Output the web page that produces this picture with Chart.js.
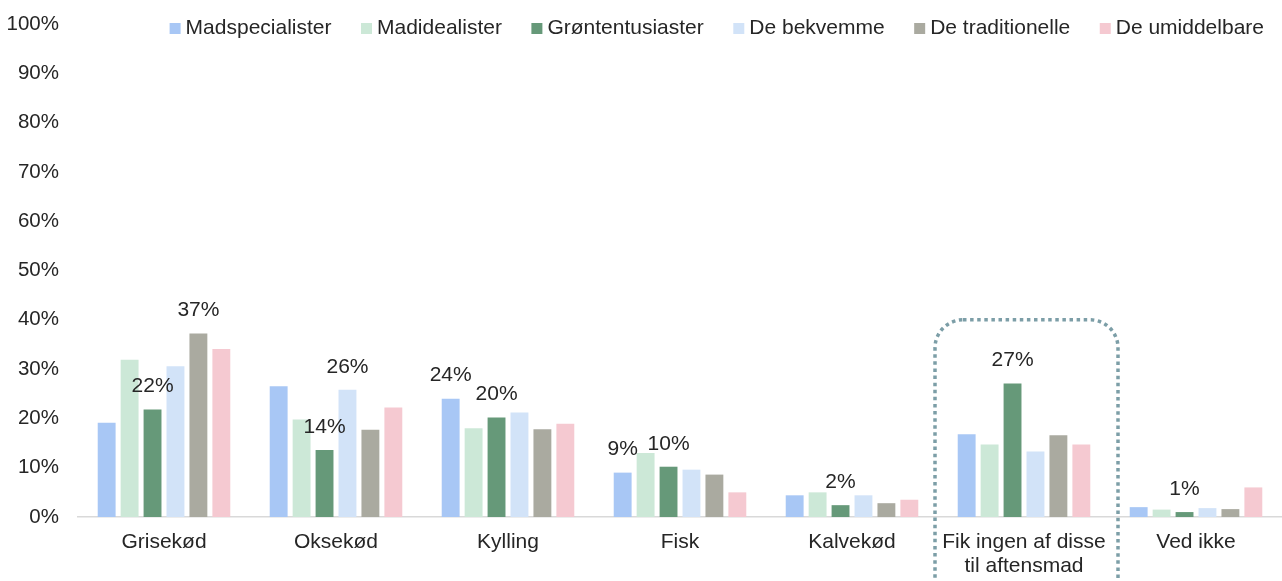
<!DOCTYPE html>
<html>
<head>
<meta charset="utf-8">
<script src="https://cdn.jsdelivr.net/npm/chart.js@4.4.1/dist/chart.umd.min.js"></script>
<style>
  html, body { margin: 0; padding: 0; background: #ffffff; }
  #wrap { width: 1282px; height: 581px; position: relative; }
</style>
</head>
<body>
<div id="wrap"><canvas id="c" width="1282" height="581"></canvas></div>
<script>
// ---- Data ----
const categories = ["Grisekød", "Oksekød", "Kylling", "Fisk", "Kalvekød", ["Fik ingen af disse", "til aftensmad"], "Ved ikke"];
const seriesNames = ["Madspecialister", "Madidealister", "Grøntentusiaster", "De bekvemme", "De traditionelle", "De umiddelbare"];
const madspecialister = [19.1, 26.5, 24.0, 9.0, 4.4, 16.8, 2.0];
const madidealister   = [31.9, 19.8, 18.0, 13.0, 5.0, 14.7, 1.5];
const groententusiaster = [21.8, 13.6, 20.2, 10.2, 2.4, 27.1, 1.0];
const deBekvemme      = [30.6, 25.8, 21.2, 9.6, 4.4, 13.3, 1.8];
const deTraditionelle = [37.2, 17.7, 17.8, 8.6, 2.8, 16.6, 1.6];
const deUmiddelbare   = [34.1, 22.2, 18.9, 5.0, 3.5, 14.7, 6.0];
const yTicks = [0, 10, 20, 30, 40, 50, 60, 70, 80, 90, 100];
// bars that carry a value label: [series index, category index]
const labeledBars = [[2,0],[4,0],[2,1],[3,1],[0,2],[2,2],[0,3],[2,3],[2,4],[2,5],[2,6]];
// highlighted category (dotted frame)
const highlightCategory = 5;
const highlightTopValue = 40;

const colors = ["#a8c7f5", "#cce8d7", "#669979", "#d2e3f8", "#aaaaa0", "#f5c9d1"];
const seriesValues = [madspecialister, madidealister, groententusiaster, deBekvemme, deTraditionelle, deUmiddelbare];

const FONT = "'Liberation Sans', Arial, sans-serif";
const TEXT = "#262626";

const legendPlugin = {
  id: 'customLegend',
  afterDraw(chart) {
    const ctx = chart.ctx;
    ctx.save();
    ctx.font = "21px " + FONT;
    const box = 11, gap = 5, itemGap = 29.5;
    const ds = chart.data.datasets;
    let total = 0;
    ds.forEach((d, i) => {
      total += box + gap + ctx.measureText(d.label).width + (i < ds.length - 1 ? itemGap : 0);
    });
    let x = chart.chartArea.right - 18 - total;
    const yc = 28;
    ds.forEach((d) => {
      ctx.fillStyle = d.backgroundColor;
      ctx.fillRect(x, yc - 5, box, box);
      x += box + gap;
      ctx.fillStyle = TEXT;
      ctx.textBaseline = 'middle';
      ctx.textAlign = 'left';
      ctx.fillText(d.label, x, yc);
      x += ctx.measureText(d.label).width + itemGap;
    });
    ctx.restore();
  }
};

const valueLabelPlugin = {
  id: 'valueLabels',
  afterDatasetsDraw(chart) {
    const ctx = chart.ctx;
    ctx.save();
    ctx.font = "21px " + FONT;
    ctx.fillStyle = TEXT;
    ctx.textAlign = 'center';
    ctx.textBaseline = 'middle';
    labeledBars.forEach(([s, c]) => {
      const bar = chart.getDatasetMeta(s).data[c];
      const v = chart.data.datasets[s].data[c];
      ctx.fillText(Math.round(v) + '%', bar.x, bar.y - 23);
    });
    ctx.restore();
  }
};

const framePlugin = {
  id: 'highlightFrame',
  afterDraw(chart) {
    const ctx = chart.ctx;
    const xs = chart.scales.x, ys = chart.scales.y;
    const xc = xs.getPixelForValue(highlightCategory);
    const left = xc - 89, right = xc + 94;
    const top = ys.getPixelForValue(highlightTopValue);
    const bottom = chart.height + 40;
    const r = 28;
    ctx.save();
    ctx.strokeStyle = "#7c9ea7";
    ctx.lineWidth = 3.5;
    ctx.setLineDash([3.5, 3.6]);
    ctx.beginPath();
    ctx.moveTo(left + r, top);
    ctx.lineTo(right - r, top);
    ctx.arcTo(right, top, right, top + r, r);
    ctx.lineTo(right, bottom - r);
    ctx.arcTo(right, bottom, right - r, bottom, r);
    ctx.lineTo(left + r, bottom);
    ctx.arcTo(left, bottom, left, bottom - r, r);
    ctx.lineTo(left, top + r);
    ctx.arcTo(left, top, left + r, top, r);
    ctx.closePath();
    ctx.stroke();
    ctx.restore();
  }
};

new Chart(document.getElementById('c'), {
  type: 'bar',
  data: {
    labels: categories,
    datasets: seriesNames.map((name, i) => ({
      label: name,
      data: seriesValues[i],
      backgroundColor: colors[i],
      borderWidth: 0,
      categoryPercentage: 0.8,
      barPercentage: 0.78
    }))
  },
  options: {
    responsive: false,
    animation: false,
    devicePixelRatio: 1,
    layout: { padding: { top: 24, right: 0, bottom: 4, left: 0 } },
    plugins: {
      legend: { display: false },
      tooltip: { enabled: false }
    },
    scales: {
      x: {
        afterFit(axis) { axis.height = 60; },
        grid: { display: false, drawTicks: false },
        border: { display: true, color: '#d9d9d9', width: 1.5 },
        ticks: {
          color: TEXT,
          font: { family: FONT, size: 21, lineHeight: 1.143 },
          padding: 13,
          maxRotation: 0,
          autoSkip: false
        }
      },
      y: {
        min: 0,
        max: 100,
        afterBuildTicks(axis) { axis.ticks = yTicks.map(v => ({ value: v })); },
        afterFit(axis) { axis.width = 78; axis.paddingTop = 0; axis.paddingBottom = 0; },
        grid: { display: false, drawTicks: false },
        border: { display: false },
        ticks: {
          color: TEXT,
          font: { family: FONT, size: 20.5 },
          padding: 19,
          callback: (v) => v + '%'
        }
      }
    }
  },
  plugins: [valueLabelPlugin, framePlugin, legendPlugin]
});
</script>
</body>
</html>
